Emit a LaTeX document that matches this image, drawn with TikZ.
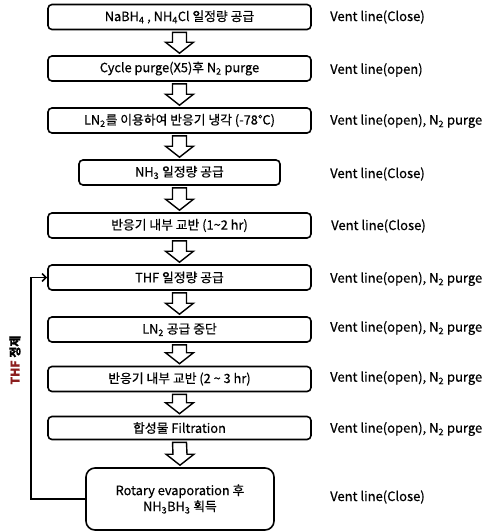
\documentclass[tikz,border=0pt]{standalone}
\usepackage{fontspec}
\setmainfont{Noto Sans CJK KR}[FakeBold=0.5]
\usepackage{xcolor}
\usetikzlibrary{calc,arrows.meta}

\definecolor{thfred}{RGB}{140,30,30}

% hollow block arrow between two steps
\newcommand\flowarrow[2]{%
  \filldraw[fill=white,draw=black,line width=1.4pt,line join=miter]
    ($(#1.south)+(-7,2)$) -- ($(#2.north)+(-7,-13)$) -- ($(#2.north)+(-14,-13)$)
    -- ($(#2.north)+(0,-2)$) -- ($(#2.north)+(14,-13)$) -- ($(#2.north)+(7,-13)$)
    -- ($(#1.south)+(7,2)$) -- cycle;}

\begin{document}
\begin{tikzpicture}[x=1pt,y=-1pt,
  stepbox/.style={draw,line width=1.6pt,rounded corners=4pt,minimum width=263pt,
    minimum height=25pt,inner sep=0pt,font=\fontsize{12.8}{14}\selectfont},
  ventlabel/.style={anchor=west,inner sep=0pt,font=\fontsize{13}{14}\selectfont}]

\useasboundingbox (0,0) rectangle (491,531);

% Steps
\node[stepbox] (s1) at (179.5,17) {NaBH\textsubscript{4} , NH\textsubscript{4}Cl 일정량 공급};
\node[stepbox] (s2) at (179.5,68.5) {Cycle purge(X5)후 N\textsubscript{2} purge};
\node[stepbox] (s3) at (179.5,120.5) {LN\textsubscript{2}를 이용하여 반응기 냉각 (-78℃)};
\node[stepbox,minimum width=201pt] (s4) at (179.5,172.5) {NH\textsubscript{3} 일정량 공급};
\node[stepbox] (s5) at (179.5,225.5) {반응기 내부 교반 (1\textasciitilde 2 hr)};
\node[stepbox] (s6) at (179.5,277.5) {THF 일정량 공급};
\node[stepbox] (s7) at (179.5,329.5) {LN\textsubscript{2} 공급 중단};
\node[stepbox] (s8) at (179.5,379) {반응기 내부 교반 (2 \textasciitilde\ 3 hr)};
\node[stepbox,minimum height=23pt] (s9) at (179.5,428) {합성물 Filtration};
\node[stepbox,minimum width=188pt,minimum height=62pt,rounded corners=9pt,align=center]
  (s10) at (180,499) {Rotary evaporation 후\\[2pt]NH\textsubscript{3}BH\textsubscript{3} 획득};

% Arrows
\flowarrow{s1}{s2}
\flowarrow{s2}{s3}
\flowarrow{s3}{s4}
\flowarrow{s4}{s5}
\flowarrow{s5}{s6}
\flowarrow{s6}{s7}
\flowarrow{s7}{s8}
\flowarrow{s8}{s9}
\flowarrow{s9}{s10}

% Vent line
\node[ventlabel] (v1) at (330,17) {Vent line(Close)};
\node[ventlabel] (v2) at (330,70) {Vent line(open)};
\node[ventlabel] (v3) at (330,121) {Vent line(open), N\textsubscript{2} purge};
\node[ventlabel] (v4) at (330,174) {Vent line(Close)};
\node[ventlabel] (v5) at (331,226) {Vent line(Close)};
\node[ventlabel] (v6) at (330,279) {Vent line(open), N\textsubscript{2} purge};
\node[ventlabel] (v7) at (330,328) {Vent line(open), N\textsubscript{2} purge};
\node[ventlabel] (v8) at (330,378) {Vent line(open), N\textsubscript{2} purge};
\node[ventlabel] (v9) at (330,429) {Vent line(open), N\textsubscript{2} purge};
\node[ventlabel] (v10) at (330,497) {Vent line(Close)};

% THF recycle
\draw[line width=1.6pt,-{Straight Barb[length=4pt,width=8pt]}]
  (s10.west) -- ++(-54,0) |- (s6.west);
\node[rotate=90,font=\fontsize{12}{14}\selectfont\bfseries] (thf) at (15,360)
  {\textcolor{thfred}{THF} 정제};

\end{tikzpicture}
\end{document}
